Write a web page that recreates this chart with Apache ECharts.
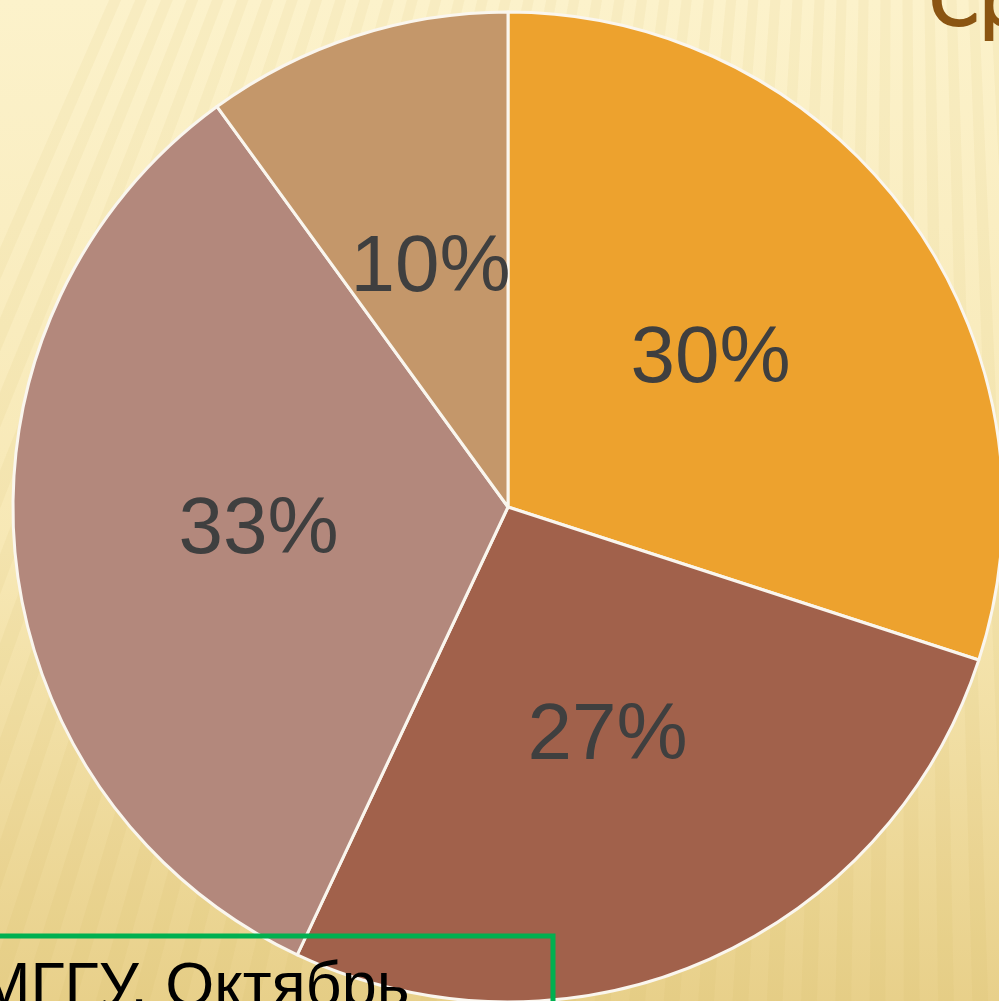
<!DOCTYPE html>
<html>
<head>
<meta charset="utf-8">
<script src="https://cdn.jsdelivr.net/npm/echarts@6/dist/echarts.min.js"></script>
<style>
html,body{margin:0;padding:0;overflow:hidden;}
#main{width:999px;height:1001px;}
</style>
</head>
<body>
<div id="main"></div>
<script>
// slices clockwise from 12 o'clock
let sliceNames = ['Сегмент 1', 'Сегмент 2', 'Сегмент 3', 'Сегмент 4'];
let sliceValues = [30, 27, 33, 10];
let sliceColors = ['#EDA22E', '#A1614B', '#B3887C', '#C4976A'];

let titleText = 'Ср';
let sourceText = 'МГГУ, Октябрь';

function make_rays(){
    // starburst stripes of the slide background
    let cx = 900, cy = -1800, len = 3600;
    let rays = [];
    for(let a = -6; a < 24; a += 0.7){
        let a1 = a * Math.PI / 180;
        let a2 = (a + 0.32) * Math.PI / 180;
        rays.push({
            type: 'polygon',
            silent: true,
            shape: {points: [
                [cx, cy],
                [cx - Math.sin(a1) * len, cy + Math.cos(a1) * len],
                [cx - Math.sin(a2) * len, cy + Math.cos(a2) * len]
            ]},
            style: {fill: 'rgba(205,165,70,0.07)'}
        });
    }
    return rays;
}

let myChart = echarts.init(document.getElementById('main'));

let pieData = [];
for(let i = 0; i < sliceValues.length; i++){
    pieData.push({name: sliceNames[i], value: sliceValues[i], itemStyle: {color: sliceColors[i]}});
}

let option = {
    backgroundColor: new echarts.graphic.LinearGradient(0, 0, 0, 1, [
        {offset: 0, color: '#FCF2CB'},
        {offset: 0.55, color: '#F7E8B5'},
        {offset: 1, color: '#E8D08A'}
    ]),
    animation: false,
    graphic: [
        {type: 'group', z: 0, children: make_rays()},
        {
            type: 'text', z: 10, left: 928, top: -31,
            style: {text: titleText, font: '72px "DejaVu Sans"', fill: '#8B5512',
                    stroke: '#8B5512', lineWidth: 2}
        },
        {
            type: 'rect', z: 10, silent: true,
            shape: {x: -10, y: 936, width: 563, height: 120},
            style: {fill: 'none', stroke: '#00B050', lineWidth: 5}
        },
        {
            type: 'text', z: 11, left: -22, top: 957,
            style: {text: sourceText, font: '63px "Liberation Sans"', fill: '#000000'}
        }
    ],
    series: [{
        type: 'pie',
        center: [508, 507],
        radius: 495,
        startAngle: 90,
        clockwise: true,
        data: pieData,
        itemStyle: {borderColor: '#FAF6EE', borderWidth: 3},
        label: {
            show: true,
            position: 'inside',
            formatter: '{c}%',
            color: '#3F3F3F',
            fontSize: 80,
            fontFamily: 'Liberation Sans'
        },
        labelLine: {show: false},
        emphasis: {disabled: true}
    }]
};
myChart.setOption(option);
window.onresize = function(){
    myChart.resize();
}
</script>
</body>
</html>
